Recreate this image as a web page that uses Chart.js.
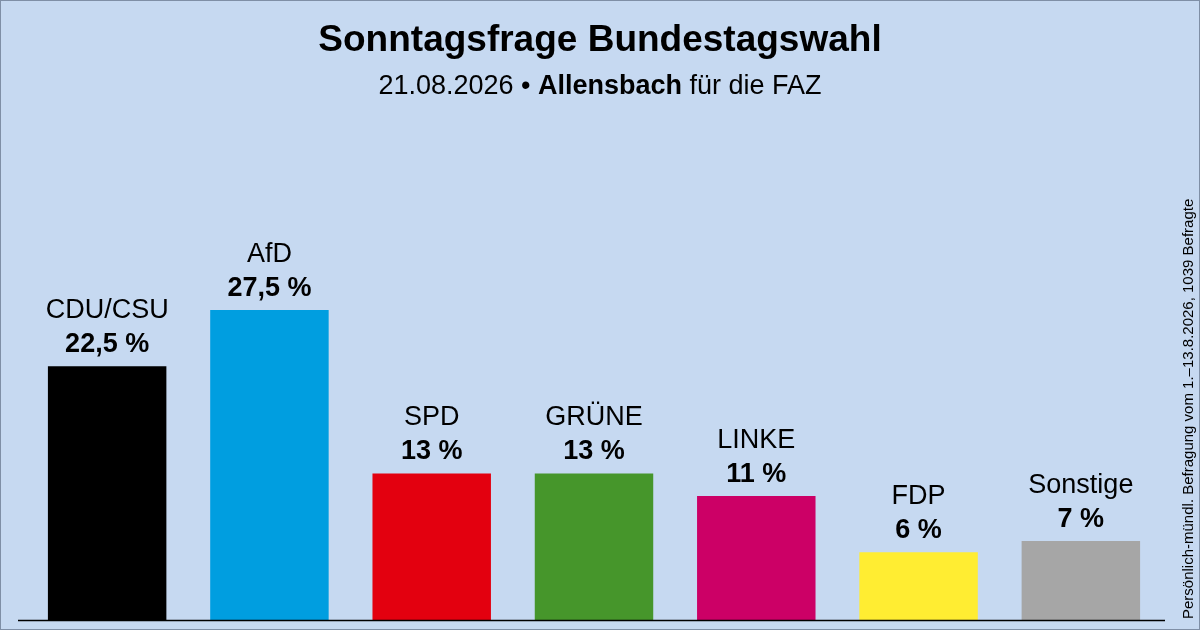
<!DOCTYPE html>
<html><head><meta charset="utf-8">
<script src="https://cdn.jsdelivr.net/npm/chart.js@4"></script>
<style>
html,body{margin:0;padding:0;background:#c6d9f1}
#wrap{width:1200px;height:630px;position:relative;box-sizing:border-box;border:1px solid #7f8fa6}
</style></head>
<body><div id="wrap"><canvas id="c" width="1198" height="628"></canvas></div>
<script>
const parties = ["CDU/CSU", "AfD", "SPD", "GRÜNE", "LINKE", "FDP", "Sonstige"]
const values = [22.5, 27.5, 13, 13, 11, 6, 7]
const valueLabels = ["22,5 %", "27,5 %", "13 %", "13 %", "11 %", "6 %", "7 %"]
const colors = ["#000000", "#009ee0", "#e3000f", "#46962b", "#cc0066", "#ffed32", "#a6a6a6"]

const decor = {
  id: 'decor',
  afterDatasetsDraw(chart) {
    const ctx = chart.ctx
    const meta = chart.getDatasetMeta(0)
    ctx.save()
    ctx.fillStyle = '#000'
    ctx.textAlign = 'center'
    ctx.textBaseline = 'alphabetic'
    ctx.font = 'bold 37px "Liberation Sans", Arial, sans-serif'
    ctx.fillText('Sonntagsfrage Bundestagswahl', 599, 50)
    ctx.font = '27px "Liberation Sans", Arial, sans-serif'
    const a = '21.08.2026 • ', b = 'Allensbach', c = ' für die FAZ'
    const wa = ctx.measureText(a).width, wc = ctx.measureText(c).width
    ctx.font = 'bold 27px "Liberation Sans", Arial, sans-serif'
    const wb = ctx.measureText(b).width
    let x = 599 - (wa + wb + wc) / 2
    ctx.textAlign = 'left'
    ctx.font = '27px "Liberation Sans", Arial, sans-serif'
    ctx.fillText(a, x, 93)
    ctx.font = 'bold 27px "Liberation Sans", Arial, sans-serif'
    ctx.fillText(b, x + wa, 93)
    ctx.font = '27px "Liberation Sans", Arial, sans-serif'
    ctx.fillText(c, x + wa + wb, 93)
    ctx.textAlign = 'center'
    meta.data.forEach((bar, i) => {
      ctx.font = '27px "Liberation Sans", Arial, sans-serif'
      ctx.fillText(parties[i], bar.x, bar.y - 48)
      ctx.font = 'bold 27px "Liberation Sans", Arial, sans-serif'
      ctx.fillText(valueLabels[i], bar.x, bar.y - 14)
    })
    const area = chart.chartArea
    ctx.strokeStyle = '#000'
    ctx.lineWidth = 1.5
    ctx.beginPath()
    ctx.moveTo(17, area.bottom + 0.5)
    ctx.lineTo(1164, area.bottom + 0.5)
    ctx.stroke()
    ctx.translate(1192, 618)
    ctx.rotate(-Math.PI / 2)
    ctx.textAlign = 'left'
    ctx.font = '15px "Liberation Sans", Arial, sans-serif'
    ctx.fillText('Persönlich-mündl. Befragung vom 1.–13.8.2026, 1039 Befragte', 0, 0)
    ctx.restore()
  }
}

new Chart(document.getElementById('c'), {
  type: 'bar',
  data: {
    labels: parties,
    datasets: [{ data: values, backgroundColor: colors, barPercentage: 0.73, categoryPercentage: 1 }]
  },
  options: {
    responsive: false,
    animation: false,
    layout: { padding: { left: 25, right: 37, top: 168, bottom: 9 } },
    plugins: { legend: { display: false }, tooltip: { enabled: false } },
    scales: {
      x: { display: false },
      y: { display: false, min: 0, max: 40 }
    }
  },
  plugins: [decor]
})
</script></body></html>
